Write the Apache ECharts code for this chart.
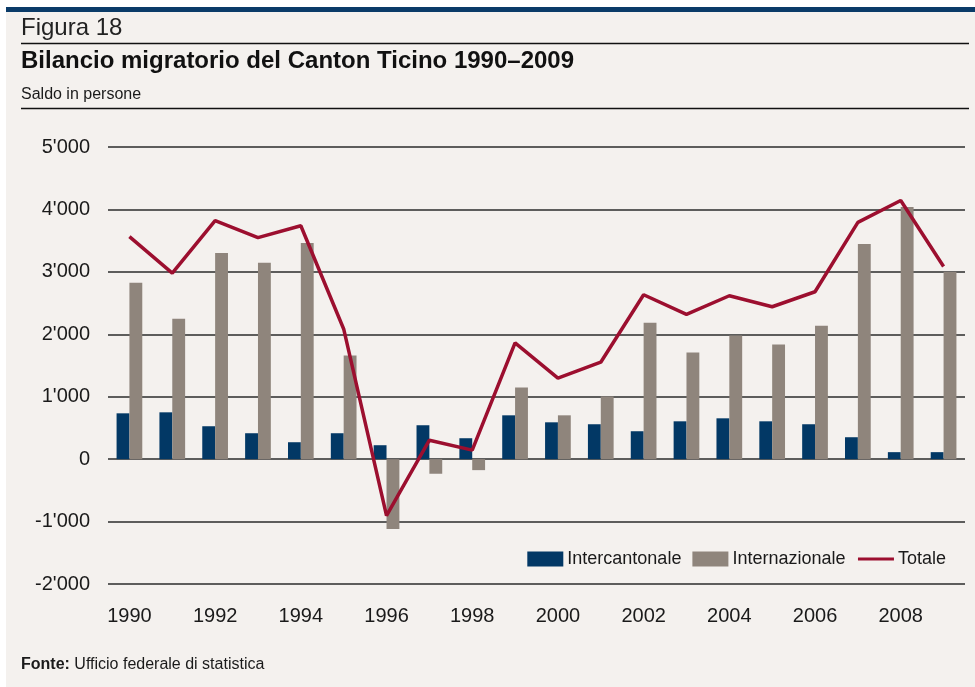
<!DOCTYPE html>
<html>
<head>
<meta charset="utf-8">
<script src="https://cdn.jsdelivr.net/npm/echarts@6/dist/echarts.min.js"></script>
<style>
  html, body { margin: 0; padding: 0; background: #fff; }
  #chart { width: 975px; height: 687px; }
</style>
</head>
<body>
<div id="chart"></div>
<script>
// dati (saldo in persone)
const years = ['1990', '1991', '1992', '1993', '1994', '1995', '1996', '1997', '1998', '1999',
  '2000', '2001', '2002', '2003', '2004', '2005', '2006', '2007', '2008', '2009']
const intercantonale = [734, 750, 527, 415, 271, 415, 223, 543, 335, 702,
  590, 559, 447, 606, 654, 606, 559, 351, 112, 112]
const internazionale = [2824, 2250, 3303, 3144, 3463, 1660, -1117, -234, -176, 1149,
  702, 1005, 2186, 1707, 1979, 1835, 2138, 3447, 4037, 3000]
const totale = [3564, 2979, 3819, 3548, 3739, 2085, -904, 303, 144, 1862,
  1298, 1553, 2633, 2319, 2617, 2441, 2681, 3793, 4144, 3085]

const FONT = '"Liberation Sans", Arial, sans-serif'
const BLUE = '#023865'
const GREY = '#8f857c'
const RED = '#9c0f2f'

function fmt(v) {
  const s = Math.abs(v).toString().replace(/\B(?=(\d{3})+(?!\d))/g, "'")
  return (v < 0 ? '-' : '') + s
}

const chart = echarts.init(document.getElementById('chart'))
chart.setOption({
  backgroundColor: '#fff',
  textStyle: { fontFamily: FONT },
  animation: false,
  graphic: [
    // sfondo + barra superiore
    { type: 'rect', z: -10, shape: { x: 6, y: 7, width: 969, height: 680 }, style: { fill: '#f4f1ee' } },
    { type: 'rect', shape: { x: 6, y: 7, width: 969, height: 5 }, style: { fill: '#0a3b68' } },
    { type: 'text', x: 21, y: 28, style: { text: 'Figura 18', font: '24px ' + FONT, fill: '#222', verticalAlign: 'middle' } },
    { type: 'line', shape: { x1: 21, y1: 43.5, x2: 969, y2: 43.5 }, style: { stroke: '#111', lineWidth: 1.5 } },
    { type: 'text', x: 21, y: 61, style: { text: 'Bilancio migratorio del Canton Ticino 1990–2009', font: 'bold 24px ' + FONT, fill: '#111', verticalAlign: 'middle' } },
    { type: 'text', x: 21, y: 95, style: { text: 'Saldo in persone', font: '16px ' + FONT, fill: '#1a1a1a', verticalAlign: 'middle' } },
    { type: 'line', shape: { x1: 21, y1: 108.5, x2: 969, y2: 108.5 }, style: { stroke: '#111', lineWidth: 1.5 } },
    {
      type: 'text', x: 21, y: 665,
      style: {
        text: '{b|Fonte:} Ufficio federale di statistica',
        font: '16px ' + FONT, fill: '#1a1a1a', verticalAlign: 'middle',
        rich: { b: { fontWeight: 'bold', fontSize: 16, fontFamily: FONT } }
      }
    }
  ],
  legend: {
    right: 24, top: 545,
    itemWidth: 36, itemHeight: 15, itemGap: 11,
    textStyle: { fontSize: 18, color: '#1a1a1a', fontFamily: FONT, padding: [0, 0, 0, -1] },
    data: [
      { name: 'Intercantonale', icon: 'rect' },
      { name: 'Internazionale', icon: 'rect' },
      { name: 'Totale', itemStyle: { opacity: 0 }, lineStyle: { width: 3 } }
    ]
  },
  grid: { left: 108, right: 10, top: 147, bottom: 103, containLabel: false },
  xAxis: {
    type: 'category',
    data: years,
    axisLine: { show: false, onZero: false },
    axisTick: { show: false },
    axisLabel: { interval: 1, fontSize: 20, color: '#1a1a1a', margin: 22 }
  },
  yAxis: {
    type: 'value',
    min: -2000, max: 5000, interval: 1000,
    axisLine: { show: false },
    axisTick: { show: false },
    splitLine: { lineStyle: { color: '#2b2b2b', width: 1.5 } },
    axisLabel: { fontSize: 20, color: '#1a1a1a', margin: 18, formatter: fmt }
  },
  series: [
    { name: 'Intercantonale', type: 'bar', data: intercantonale, barWidth: '30%', barGap: '0%', itemStyle: { color: BLUE } },
    { name: 'Internazionale', type: 'bar', data: internazionale, barWidth: '30%', itemStyle: { color: GREY } },
    {
      name: 'Totale', type: 'line', data: totale, symbol: 'none', z: 5,
      lineStyle: { color: RED, width: 3.5 }, itemStyle: { color: RED }
    }
  ]
})
</script>
</body>
</html>
